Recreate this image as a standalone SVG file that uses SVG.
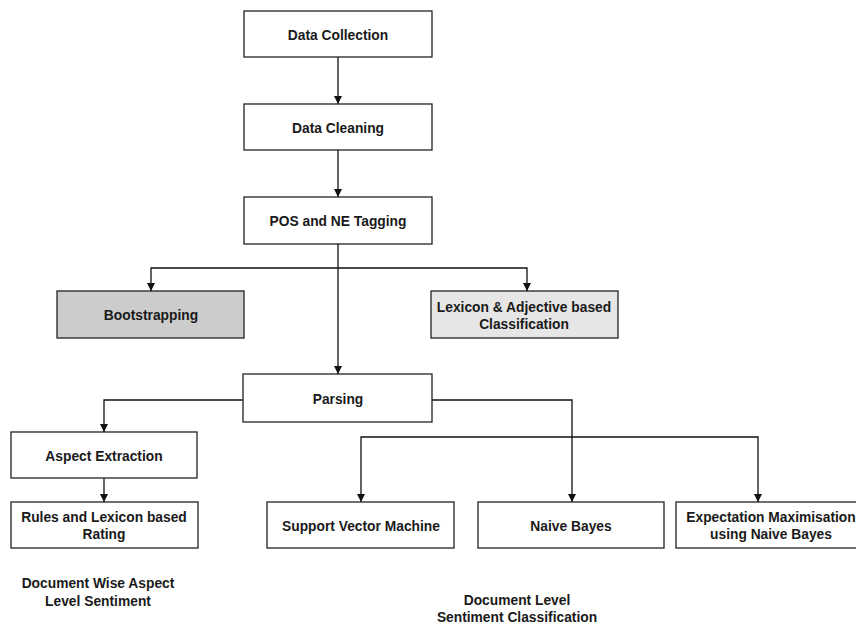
<svg xmlns="http://www.w3.org/2000/svg" width="856" height="625" viewBox="0 0 856 625">
<defs>
<style>
.box{fill:#ffffff;stroke:#222;stroke-width:1.3}
.t{font-family:"Liberation Sans",Arial,sans-serif;font-weight:bold;font-size:13.8px;fill:#1a1a1a;text-anchor:middle}
.c{fill:none;stroke:#111;stroke-width:1.3}
</style>
<marker id="ah" viewBox="0 0 10 10" refX="10" refY="5" markerWidth="8" markerHeight="8" markerUnits="userSpaceOnUse" orient="auto">
<path d="M0,0 L10,5 L0,10 z" fill="#111"/>
</marker>
</defs>
<rect width="856" height="625" fill="#ffffff"/>
<g id="connectors">
<path class="c" d="M338,56 V104" marker-end="url(#ah)"/>
<path class="c" d="M338,150 V197" marker-end="url(#ah)"/>
<path class="c" d="M338,244 V374" marker-end="url(#ah)"/>
<path class="c" d="M338,268 H151 V291" marker-end="url(#ah)"/>
<path class="c" d="M338,268 H527 V291" marker-end="url(#ah)"/>
<path class="c" d="M243,400 H104 V432" marker-end="url(#ah)"/>
<path class="c" d="M104,478 V502" marker-end="url(#ah)"/>
<path class="c" d="M432,400 H572 V502" marker-end="url(#ah)"/>
<path class="c" d="M572,437 H361 V502" marker-end="url(#ah)"/>
<path class="c" d="M572,437 H758 V502" marker-end="url(#ah)"/>
</g>
<g id="data-collection"><rect class="box" x="244" y="11" width="188" height="46"/><text class="t" x="338" y="40">Data Collection</text></g>
<g id="data-cleaning"><rect class="box" x="244" y="104" width="188" height="46"/><text class="t" x="338" y="133">Data Cleaning</text></g>
<g id="pos-tagging"><rect class="box" x="244" y="197" width="188" height="47"/><text class="t" x="338" y="226">POS and NE Tagging</text></g>
<g id="bootstrapping"><rect class="box" x="57" y="291" width="187" height="47" style="fill:#cccccc"/><text class="t" x="151" y="320">Bootstrapping</text></g>
<g id="lexicon-adjective"><rect class="box" x="431" y="291" width="187" height="47" style="fill:#e6e6e6"/><text class="t" x="524" y="312">Lexicon &amp; Adjective based</text><text class="t" x="524" y="329">Classification</text></g>
<g id="parsing"><rect class="box" x="243" y="374" width="189" height="48"/><text class="t" x="338" y="404">Parsing</text></g>
<g id="aspect-extraction"><rect class="box" x="11" y="432" width="186" height="46"/><text class="t" x="104" y="461">Aspect Extraction</text></g>
<g id="rules-lexicon"><rect class="box" x="11" y="502" width="187" height="46"/><text class="t" x="104" y="522">Rules and Lexicon based</text><text class="t" x="104" y="539">Rating</text></g>
<g id="svm"><rect class="box" x="267" y="502" width="187" height="46"/><text class="t" x="361" y="531">Support Vector Machine</text></g>
<g id="naive-bayes"><rect class="box" x="478" y="502" width="186" height="46"/><text class="t" x="571" y="531">Naive Bayes</text></g>
<g id="em-naive-bayes"><rect class="box" x="676" y="502" width="188" height="46"/><text class="t" x="771" y="522">Expectation Maximisation</text><text class="t" x="771" y="539">using Naive Bayes</text></g>
<g id="label-aspect"><text class="t" x="98" y="588">Document Wise Aspect</text><text class="t" x="98" y="606">Level Sentiment</text></g>
<g id="label-document"><text class="t" x="517" y="605">Document Level</text><text class="t" x="517" y="622">Sentiment Classification</text></g>
</svg>
